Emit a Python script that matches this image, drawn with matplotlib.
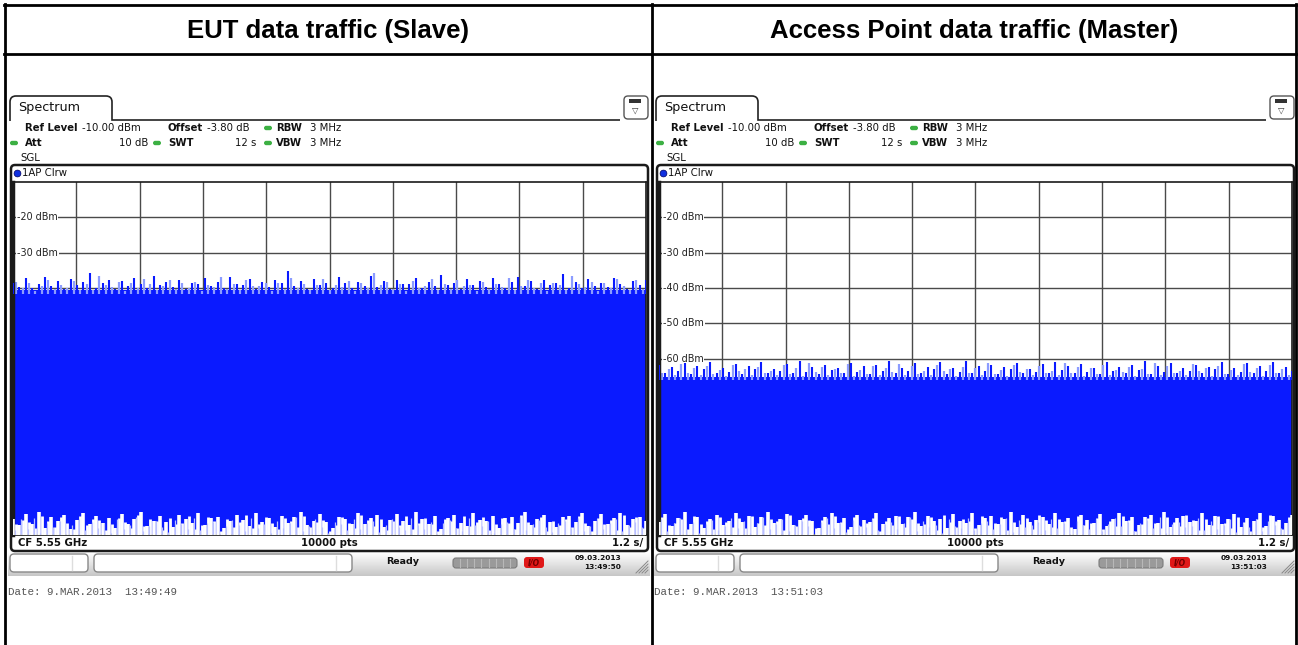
import numpy as np
import matplotlib
matplotlib.use("Agg")
import matplotlib.pyplot as plt
from matplotlib.patches import FancyBboxPatch, Rectangle, PathPatch, Circle
from matplotlib.path import Path

# ---- chart data ----
titles = ["EUT data traffic (Slave)", "Access Point data traffic (Master)"]
y_ticks = [-20, -30, -40, -50, -60, -70, -80, -90, -100]
ref_level = -10
y_bottom = -110
sweep_time = 12.0  # s, 1.2 s/div

# body level of the trace
slave_level = -40.6
master_level = -65.2

# tops of the spikes above the body
slave_peaks = [-38.5, -39.8, -37.2, -40.1, -38.9, -36.8, -39.5, -38.0, -40.3, -37.6,
               -39.1, -38.4, -35.9, -39.9, -38.7, -37.9, -40.2, -38.1, -39.4, -37.3,
               -38.8, -40.0, -36.5, -39.2, -38.3, -39.7, -37.8, -40.4, -38.6, -39.0,
               -37.1, -39.6, -38.2, -40.1, -36.9, -38.9, -39.3, -37.5, -40.2, -38.4,
               -39.8, -37.7, -38.6, -35.2, -39.5, -38.0, -40.3, -37.4, -39.1, -38.7,
               -39.9, -37.0, -38.5, -40.0, -38.2, -39.4, -36.7, -39.7, -38.1, -40.2,
               -37.9, -39.0, -38.8, -37.2, -40.1, -38.3, -39.6, -36.3, -39.2, -38.6,
               -40.4, -37.6, -39.3, -38.0, -39.8, -37.3, -38.9, -40.0, -38.4, -36.9,
               -39.5, -38.1, -40.3, -37.8, -39.1, -38.7, -36.1, -39.9, -38.2, -40.1,
               -37.5, -39.4, -38.5, -39.7, -37.1, -38.8, -40.2, -38.0, -39.3, -37.7]
master_peaks = [-61.8, -64.0, -62.5, -63.6, -61.2, -64.3, -62.0, -63.1, -60.9, -64.1,
                -62.7, -63.8, -61.5, -64.4, -62.2, -63.0, -61.0, -64.2, -62.9, -63.5,
                -61.6, -64.0, -60.6, -63.7, -62.4, -64.3, -61.9, -63.2, -62.6, -64.1,
                -61.3, -63.9, -62.1, -64.4, -61.7, -63.4, -60.8, -64.0, -62.8, -63.6,
                -61.4, -64.2, -62.3, -63.1, -61.1, -64.3, -62.6, -63.8, -60.7, -64.0,
                -62.0, -63.5, -61.8, -64.4, -62.5, -63.0, -61.2, -64.1, -62.9, -63.7,
                -61.6, -64.2, -60.9, -63.3, -62.2, -64.0, -61.5, -63.9, -62.7, -64.3,
                -61.0, -63.6, -62.4, -64.1, -61.9, -63.2, -60.8, -64.4, -62.1, -63.8,
                -61.3, -64.0, -62.8, -63.4, -61.7, -64.2, -62.3, -63.0, -61.1, -64.3,
                -62.6, -63.7, -61.4, -64.1, -62.0, -63.5, -60.9, -64.0, -62.5, -63.6]
# tops of the white gaps at the bottom edge of the trace
slave_dips = [-105.5, -107.2, -104.1, -106.8, -103.6, -107.9, -105.0, -106.1, -104.4, -108.2,
              -105.8, -103.9, -107.0, -104.7, -106.5, -105.2, -108.0, -104.0, -106.9, -105.6,
              -103.4, -107.4, -105.9, -104.5, -106.2, -107.7, -104.2, -105.4, -106.7, -103.8,
              -107.1, -105.1, -104.8, -108.1, -106.0, -104.3, -105.7, -107.5, -103.7, -106.4,
              -105.3, -107.8, -104.6, -106.6, -105.0, -103.5, -107.3, -105.9, -104.1, -106.3,
              -108.0, -104.9, -105.5, -107.0, -103.9, -106.8, -105.2, -104.4, -107.6, -105.8,
              -104.0, -106.1, -107.2, -103.6, -105.6, -106.9, -104.7, -108.2, -105.1, -104.2,
              -106.5, -107.4, -103.8, -105.7, -106.0, -104.5, -107.9, -105.3, -104.8, -106.7,
              -103.5, -107.1, -105.4, -104.3, -106.2, -107.7, -105.0, -104.6, -106.4, -103.7,
              -107.5, -105.9, -104.1, -106.8, -105.2, -103.9, -107.3, -105.6, -104.9, -106.1]
master_dips = [-106.2, -104.0, -107.5, -105.1, -103.6, -106.9, -104.8, -108.0, -105.4, -104.2,
               -107.1, -105.9, -103.8, -106.4, -104.6, -107.8, -105.0, -103.5, -106.7, -105.5,
               -104.1, -107.3, -105.8, -104.4, -106.0, -108.1, -104.9, -103.7, -106.6, -105.2,
               -107.6, -104.3, -105.7, -106.3, -103.9, -107.0, -105.3, -104.7, -106.8, -105.0,
               -103.4, -107.4, -104.5, -106.1, -105.6, -107.9, -104.0, -105.9, -106.5, -103.8,
               -107.2, -105.1, -104.6, -106.9, -105.4, -103.6, -107.7, -104.2, -106.2, -105.8,
               -104.8, -107.0, -103.9, -106.4, -105.2, -108.2, -104.4, -105.7, -106.7, -104.1,
               -107.5, -105.5, -103.7, -106.0, -104.9, -107.3, -105.0, -104.3, -106.6, -103.5,
               -107.8, -105.3, -104.7, -106.3, -105.9, -103.8, -107.1, -104.5, -106.8, -105.6,
               -104.0, -107.6, -105.1, -106.1, -103.9, -107.4, -104.6, -105.8, -106.5, -104.2]

ref_texts = ["-10.00 dBm", "-10.00 dBm"]
offsets = ["-3.80 dB", "-3.80 dB"]
screen_dates = [("09.03.2013", "13:49:50"), ("09.03.2013", "13:51:03")]
print_dates = ["Date: 9.MAR.2013  13:49:49", "Date: 9.MAR.2013  13:51:03"]

W, H = 1298, 645
fig = plt.figure(figsize=(W / 100, H / 100), dpi=100)
bg = fig.add_axes([0, 0, 1, 1])
bg.set_xlim(0, W)
bg.set_ylim(H, 0)
bg.axis("off")

BLUE = "#0a1aff"
LIGHT = "#8c9cff"
screen_font = "DejaVu Sans"


def txt(x, y, s, size=7.3, weight="normal", ha="left", color="#111111", family=screen_font, **kw):
    bg.text(x, y, s, fontsize=size, fontweight=weight, ha=ha, va="center",
            color=color, family=family, **kw)


def dot(x, y, color="#3cb043"):
    bg.add_patch(FancyBboxPatch((x - 4, y - 2.2), 8, 4.4, boxstyle="round,pad=0,rounding_size=2.2",
                                fc=color, ec="none"))


# ---- table frame ----
for x in (4.5, 652, 1296):
    bg.plot([x, x], [4, H], color="black", lw=2)
for y in (5, 54):
    bg.plot([4, 1296], [y, y], color="black", lw=2)
for i, t in enumerate(titles):
    bg.text(328 + i * 646, 31, t, fontsize=18.5, fontweight="bold", ha="center", va="center",
            family="Liberation Sans")

# status bar gradient
grad = np.linspace(1, 0, 64).reshape(-1, 1)


def draw_screen(i, ox):
    # tab
    verts = [(10 + ox, 121), (10 + ox, 102), (10 + ox, 96), (16 + ox, 96), (106 + ox, 96),
             (112 + ox, 96), (112 + ox, 102), (112 + ox, 120), (620 + ox, 120)]
    codes = [Path.MOVETO, Path.LINETO, Path.CURVE3, Path.CURVE3, Path.LINETO,
             Path.CURVE3, Path.CURVE3, Path.LINETO, Path.LINETO]
    bg.add_patch(PathPatch(Path(verts, codes), fc="none", ec="#222222", lw=1.2))
    txt(18 + ox, 108, "Spectrum", size=9.2)
    # menu icon
    bg.add_patch(FancyBboxPatch((624 + ox, 96), 24, 23, boxstyle="round,pad=0,rounding_size=4",
                                fc="white", ec="#555555", lw=1))
    bg.add_patch(Rectangle((629 + ox, 99), 12, 4, fc="#333333", ec="none"))
    bg.text(635 + ox, 110, "\u25bd", fontsize=6, ha="center", va="center", color="#333333",
            family="DejaVu Sans")

    # settings
    txt(25 + ox, 128, "Ref Level", weight="bold")
    txt(82 + ox, 128, ref_texts[i])
    txt(168 + ox, 128, "Offset", weight="bold")
    txt(207 + ox, 128, offsets[i])
    dot(268 + ox, 128)
    txt(276 + ox, 128, "RBW", weight="bold")
    txt(310 + ox, 128, "3 MHz")
    dot(14 + ox, 143)
    txt(25 + ox, 143, "Att", weight="bold")
    txt(148 + ox, 143, "10 dB", ha="right")
    dot(157 + ox, 143)
    txt(168 + ox, 143, "SWT", weight="bold")
    txt(256 + ox, 143, "12 s", ha="right")
    dot(268 + ox, 143)
    txt(276 + ox, 143, "VBW", weight="bold")
    txt(310 + ox, 143, "3 MHz")
    txt(20 + ox, 158, "SGL")

    # diagram frame
    bg.add_patch(FancyBboxPatch((11 + ox, 165), 637, 386, boxstyle="round,pad=0,rounding_size=4",
                                fc="white", ec="#1a1a1a", lw=1.8, zorder=1))
    bg.add_patch(Circle((17.5 + ox, 173.5), 3.4, fc="#1030e0", ec="#000060", lw=0.5, zorder=2))
    txt(22 + ox, 173, "1AP Clrw", zorder=2)
    txt(18 + ox, 543, "CF 5.55 GHz", weight="bold", zorder=2)
    txt(329 + ox, 543, "10000 pts", weight="bold", ha="center", zorder=2)
    txt(643 + ox, 543, "1.2 s/", weight="bold", ha="right", zorder=2)

    # status bar
    bg.imshow(grad, cmap="gray", vmin=-3.5, vmax=1, aspect="auto",
              extent=(8 + ox, 650 + ox, 576, 552), zorder=0.5)
    bg.add_patch(FancyBboxPatch((10 + ox, 554), 78, 18, boxstyle="round,pad=0,rounding_size=4",
                                fc="white", ec="#888888", lw=1, zorder=1))
    bg.plot([72 + ox, 72 + ox], [556, 570], color="#dddddd", lw=1, zorder=2)
    bg.add_patch(FancyBboxPatch((94 + ox, 554), 258, 18, boxstyle="round,pad=0,rounding_size=4",
                                fc="white", ec="#888888", lw=1, zorder=1))
    bg.plot([336 + ox, 336 + ox], [556, 570], color="#dddddd", lw=1, zorder=2)
    txt(403 + ox, 562, "Ready", weight="bold", ha="center", size=6.8, zorder=2)
    bg.add_patch(FancyBboxPatch((453 + ox, 558), 64, 10, boxstyle="round,pad=0,rounding_size=3",
                                fc="#9a9a9a", ec="#7a7a7a", lw=0.8, zorder=2))
    for k in range(1, 9):
        bg.plot([453 + ox + k * 7.1] * 2, [559, 567], color="#b8b8b8", lw=0.8, zorder=3)
    bg.add_patch(FancyBboxPatch((524 + ox, 557), 20, 11, boxstyle="round,pad=0,rounding_size=3",
                                fc="#e01818", ec="none", zorder=2))
    bg.text(534 + ox, 562.5, "I/O", fontsize=5.5, fontweight="bold", fontstyle="italic",
            color="#700000", ha="center", va="center", zorder=3)
    txt(621 + ox, 558, screen_dates[i][0], weight="bold", ha="right", size=5.3, zorder=2)
    txt(621 + ox, 567, screen_dates[i][1], weight="bold", ha="right", size=5.3, zorder=2)
    for k in range(4):
        bg.plot([636 + ox + k * 3, 648 + ox], [573, 561 + k * 3], color="#888888", lw=0.7, zorder=2)

    # printout date
    txt(8 + ox, 592, print_dates[i], size=7.8, color="#555555", family="Liberation Mono")


def draw_trace(ox, level, peaks, dips):
    left = (13 + ox) / W
    bottom = 1 - 535 / H
    ax = fig.add_axes([left, bottom, 633 / W, 353 / H])
    ax.set_xlim(0, sweep_time)
    ax.set_ylim(y_bottom, ref_level)
    ax.set_xticks(np.linspace(0, sweep_time, 11)[1:-1])
    ax.set_yticks(y_ticks)
    ax.tick_params(left=False, bottom=False, labelleft=False, labelbottom=False)
    ax.grid(True, color="#4a4a4a", lw=1, zorder=0)
    ax.set_axisbelow(True)
    for sp in ax.spines.values():
        sp.set_color("#1a1a1a")
        sp.set_linewidth(1.2)
    ax.spines["left"].set_linewidth(2.5)
    # the analyzer only shows level labels that the trace does not cover
    for v in y_ticks:
        if v > level + 2.5:
            ax.text(0.006, v, f"{v} dBm", transform=ax.get_yaxis_transform(), fontsize=6.9,
                    va="center", ha="left", color="#222222", family=screen_font,
                    bbox=dict(fc="white", ec="none", pad=0.6), zorder=1)
    # solid trace body
    ax.axhspan(y_bottom, level, color=BLUE, lw=0, zorder=2)
    xp = np.linspace(0, sweep_time, len(peaks))
    step = xp[1] - xp[0]
    ax.vlines(xp[:-1] + step / 2, level - 1, np.array(peaks[::-1][:-1]) - 0.6,
              color=LIGHT, lw=1.6, zorder=2.5)
    ax.vlines(xp, level - 1, peaks, color=BLUE, lw=1.5, zorder=3)
    # white gaps at the bottom edge
    xd = np.linspace(0, sweep_time, len(dips))
    dstep = xd[1] - xd[0]
    ax.vlines(xd, y_bottom, dips, color="white", lw=2.6, zorder=3)
    ax.vlines(xd[:-1] + dstep / 2, y_bottom, np.array(dips[::-1][:-1]) - 0.8,
              color="white", lw=2.0, zorder=3)
    ax.vlines(xd[:-1] + dstep * 0.3, y_bottom, np.array(dips[1:]) - 1.5,
              color="#b8c0ff", lw=0.9, zorder=3)
    return ax


for i in range(2):
    draw_screen(i, i * 646)

draw_trace(0, slave_level, slave_peaks, slave_dips)
draw_trace(646, master_level, master_peaks, master_dips)

fig.savefig("out.png", dpi=100)
